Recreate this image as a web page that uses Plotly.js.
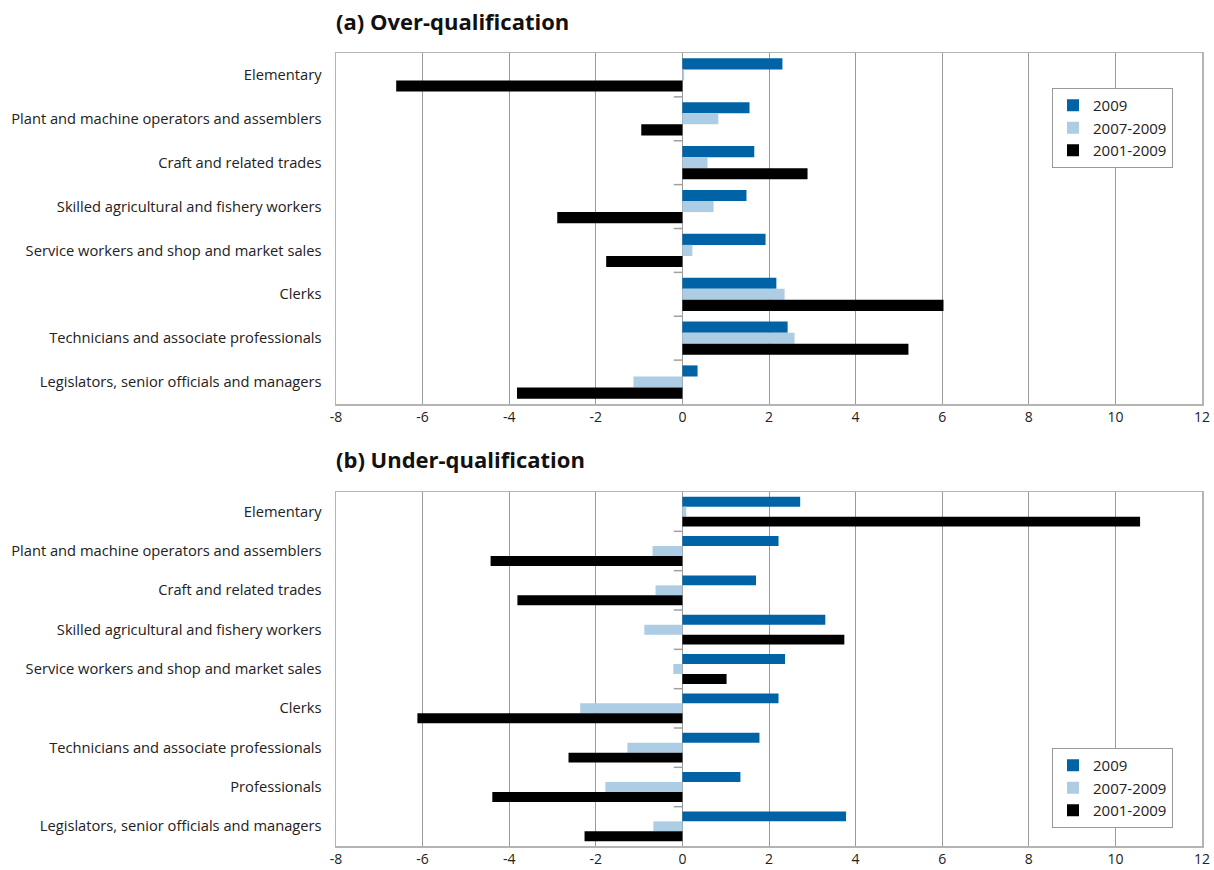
<!DOCTYPE html>
<html>
<head>
<meta charset="utf-8">
<script src="https://cdn.plot.ly/plotly-3.0.1.min.js"></script>
<style>html,body{margin:0;padding:0;background:#fff;}#chart{width:1214px;height:870px;}</style>
</head>
<body>
<div id="chart"></div>
<script>
// Panel (a) Over-qualification, categories listed top to bottom
const catsA = ["Elementary","Plant and machine operators and assemblers","Craft and related trades","Skilled agricultural and fishery workers","Service workers and shop and market sales","Clerks","Technicians and associate professionals","Legislators, senior officials and managers"];
const overA_2009 = [2.31, 1.55, 1.66, 1.48, 1.92, 2.17, 2.43, 0.35];
const overA_0709 = [0.04, 0.83, 0.58, 0.72, 0.23, 2.36, 2.59, -1.13];
const overA_0109 = [-6.61, -0.95, 2.89, -2.89, -1.76, 6.03, 5.22, -3.82];

// Panel (b) Under-qualification
const catsB = ["Elementary","Plant and machine operators and assemblers","Craft and related trades","Skilled agricultural and fishery workers","Service workers and shop and market sales","Clerks","Technicians and associate professionals","Professionals","Legislators, senior officials and managers"];
const underB_2009 = [2.72, 2.22, 1.70, 3.30, 2.37, 2.22, 1.78, 1.34, 3.78];
const underB_0709 = [0.09, -0.69, -0.62, -0.88, -0.21, -2.36, -1.27, -1.78, -0.67];
const underB_0109 = [10.57, -4.43, -3.81, 3.74, 1.02, -6.12, -2.63, -4.39, -2.26];

const seriesNames = ["2009","2007-2009","2001-2009"];
const colors = ["#0063a6","#adcde4","#000000"];
const xTicks = [-8,-6,-4,-2,0,2,4,6,8,10,12];

const FONT = "Open Sans, Noto Sans, sans-serif";
const W = 1214, H = 870;
const L = 336, R = 12;
function py(px){ return 1 - px / H; }
function px2x(px){ return (px - L) / (W - L - R); }

const traces = [];
[overA_2009, overA_0709, overA_0109].forEach((v,i)=>{
  traces.push({type:"bar", orientation:"h", y:catsA, x:v, name:seriesNames[i],
    marker:{color:colors[i], line:{width:0}}, xaxis:"x", yaxis:"y", legend:"legend", hoverinfo:"x+name"});
});
[underB_2009, underB_0709, underB_0109].forEach((v,i)=>{
  traces.push({type:"bar", orientation:"h", y:catsB, x:v, name:seriesNames[i],
    marker:{color:colors[i], line:{width:0}}, xaxis:"x2", yaxis:"y2", legend:"legend2", hoverinfo:"x+name"});
});

// small category-boundary tick marks on the vertical axis crossing at zero
const shapes = [];
function addBoundaryTicks(cats, xref, yref){
  for (let i = 0; i <= cats.length; i++) {
    if (i === 0 || i === cats.length) continue;
    shapes.push({type:"line", xref:xref, yref:yref, x0:-0.2, x1:0, y0:i-0.5, y1:i-0.5,
      line:{color:"#a0a0a0", width:1.5}});
  }
}
addBoundaryTicks(catsA, "x", "y");
addBoundaryTicks(catsB, "x2", "y2");

const xCommon = {
  range:[-8,12], tickvals:xTicks, ticktext:xTicks.map(String),
  showgrid:true, gridcolor:"#9a9a9a", gridwidth:1,
  zeroline:false, showline:true, mirror:true, linecolor:"#b4b4b4", linewidth:1.5,
  ticks:"", tickfont:{family:FONT, size:14, color:"#222"}, automargin:false, fixedrange:true
};
const yCommon = {
  type:"category", autorange:"reversed", showgrid:false, zeroline:false,
  showline:true, mirror:true, linecolor:"#b4b4b4", linewidth:1.5,
  ticks:"outside", ticklen:10, tickcolor:"rgba(0,0,0,0)",
  tickfont:{family:FONT, size:14.7, color:"#222"}, automargin:false, fixedrange:true
};

const layout = {
  width:W, height:H,
  margin:{l:L, r:R, t:0, b:0},
  paper_bgcolor:"#fff", plot_bgcolor:"#fff",
  barmode:"group", bargap:0.24, bargroupgap:0,
  showlegend:true,
  font:{family:FONT, color:"#222"},
  xaxis: Object.assign({}, xCommon, {anchor:"y"}),
  yaxis: Object.assign({}, yCommon, {domain:[py(404), py(53)], anchor:"x"}),
  xaxis2: Object.assign({}, xCommon, {anchor:"y2"}),
  yaxis2: Object.assign({}, yCommon, {domain:[py(846), py(492)], anchor:"x2"}),
  legend:{x:px2x(1052), y:py(88), xanchor:"left", yanchor:"top", bgcolor:"#fff",
    bordercolor:"#999", borderwidth:1, font:{family:FONT, size:15, color:"#222"}},
  legend2:{x:px2x(1052), y:py(748), xanchor:"left", yanchor:"top", bgcolor:"#fff",
    bordercolor:"#999", borderwidth:1, font:{family:FONT, size:15, color:"#222"}},
  shapes: shapes,
  annotations:[
    {text:"<b>(a) Over-qualification</b>", xref:"paper", yref:"paper", x:-0.002, y:py(21), xanchor:"left", yanchor:"middle",
      showarrow:false, font:{family:FONT, size:22, color:"#111"}},
    {text:"<b>(b) Under-qualification</b>", xref:"paper", yref:"paper", x:-0.002, y:py(459), xanchor:"left", yanchor:"middle",
      showarrow:false, font:{family:FONT, size:22, color:"#111"}}
  ]
};

Plotly.newPlot("chart", traces, layout, {displayModeBar:false, staticPlot:true});
</script>
</body>
</html>
